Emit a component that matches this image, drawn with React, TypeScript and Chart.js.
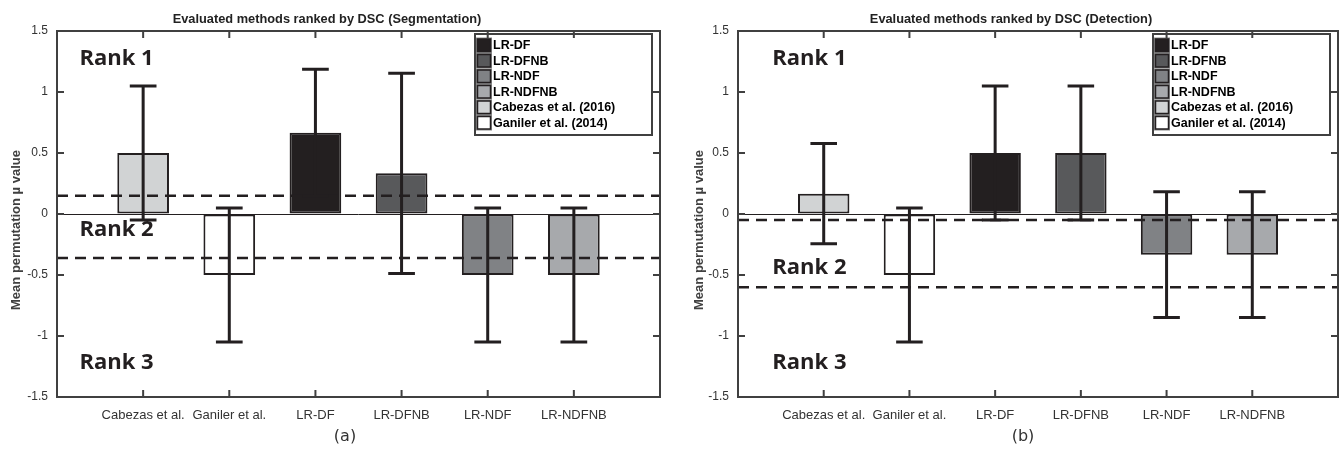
import React, { useEffect, useRef } from 'react';
import { Chart, registerables } from 'chart.js';

Chart.register(...registerables);

// ---------- data ----------
const categories = ['', 'Cabezas et al.', 'Ganiler et al.', 'LR-DF', 'LR-DFNB', 'LR-NDF', 'LR-NDFNB', ''];
const barColors = ['#ffffff', '#d1d3d4', '#ffffff', '#231f20', '#58595b', '#808285', '#a7a9ac', '#ffffff'];

const legendLabels = ['LR-DF', 'LR-DFNB', 'LR-NDF', 'LR-NDFNB', 'Cabezas et al. (2016)', 'Ganiler et al. (2014)'];
const legendColors = ['#231f20', '#58595b', '#808285', '#a7a9ac', '#d1d3d4', '#ffffff'];

const segMeans = [null, 0.5, -0.5, 0.667, 0.333, -0.5, -0.5, null];
const segUpper = [null, 1.05, 0.05, 1.187, 1.153, 0.05, 0.05, null];
const segLower = [null, -0.05, -1.05, 0.147, -0.487, -1.05, -1.05, null];
const segThresholds = [0.15, -0.36];
const segRankY = [1.27, -0.13, -1.22];

const detMeans = [null, 0.167, -0.5, 0.5, 0.5, -0.333, -0.333, null];
const detUpper = [null, 0.577, 0.05, 1.05, 1.05, 0.182, 0.182, null];
const detLower = [null, -0.243, -1.05, -0.05, -0.05, -0.848, -0.848, null];
const detThresholds = [-0.05, -0.6];
const detRankY = [1.27, -0.44, -1.22];

const rankLabels = ['Rank 1', 'Rank 2', 'Rank 3'];
const yTickValues = [-1.5, -1, -0.5, 0, 0.5, 1, 1.5];
const yTickLabels = ['-1.5', '-1', '-0.5', '0', '0.5', '1', '1.5'];

const segTitle = 'Evaluated methods ranked by DSC (Segmentation)';
const detTitle = 'Evaluated methods ranked by DSC (Detection)';
const yTitle = 'Mean permutation \u00b5 value';

// ---------- styling ----------
const FONT = '"Liberation Sans", Arial, Helvetica, sans-serif';
const INK = '#231f20';
const FRAME = '#404040';

const decorPlugin = {
  id: 'decor',
  afterDatasetsDraw(chart: any, _args: any, opts: any) {
    const { ctx, chartArea: a, scales } = chart;
    const x = scales.x;
    const y = scales.y;
    ctx.save();
    // dashed threshold lines
    ctx.strokeStyle = INK;
    ctx.lineWidth = 2.5;
    ctx.setLineDash([11, 7]);
    for (const t of opts.thresholds) {
      const py = y.getPixelForValue(t);
      ctx.beginPath();
      ctx.moveTo(a.left, py);
      ctx.lineTo(a.right, py);
      ctx.stroke();
    }
    ctx.setLineDash([]);
    // error bars
    const step = x.getPixelForValue(1) - x.getPixelForValue(0);
    const half = step * 0.155;
    ctx.lineWidth = 3;
    ctx.strokeStyle = INK;
    for (let i = 0; i < opts.upper.length; i++) {
      const u = opts.upper[i];
      const l = opts.lower[i];
      if (u == null || l == null) continue;
      const px = x.getPixelForValue(i);
      const yu = y.getPixelForValue(u);
      const yl = y.getPixelForValue(l);
      ctx.beginPath();
      ctx.moveTo(px, yu);
      ctx.lineTo(px, yl);
      ctx.moveTo(px - half, yu);
      ctx.lineTo(px + half, yu);
      ctx.moveTo(px - half, yl);
      ctx.lineTo(px + half, yl);
      ctx.stroke();
    }
    ctx.restore();
  },
  afterDraw(chart: any, _args: any, opts: any) {
    const { ctx, chartArea: a, scales } = chart;
    const x = scales.x;
    const y = scales.y;
    ctx.save();
    // rank labels
    ctx.fillStyle = INK;
    ctx.font = 'bold 22px "Open Sans", sans-serif';
    ctx.textAlign = 'left';
    ctx.textBaseline = 'middle';
    opts.rankY.forEach((v: number, i: number) => {
      ctx.fillText(rankLabels[i], x.getPixelForValue(opts.rankX), y.getPixelForValue(v));
    });
    // legend
    const lw = 177;
    const lh = 101;
    const lx = a.right - 8 - lw;
    const ly = a.top + 3;
    ctx.fillStyle = '#ffffff';
    ctx.fillRect(lx, ly, lw, lh);
    ctx.strokeStyle = FRAME;
    ctx.lineWidth = 2;
    ctx.strokeRect(lx, ly, lw, lh);
    const rowH = 15.5;
    const y0 = ly + 3.5;
    ctx.font = 'bold 12.5px ' + FONT;
    legendLabels.forEach((lab, i) => {
      const sy = y0 + i * rowH;
      ctx.fillStyle = '#8a8a8a';
      ctx.fillRect(lx + 1, sy, 16, rowH);
      ctx.fillStyle = legendColors[i];
      ctx.fillRect(lx + 2.5, sy + 1.5, 13, rowH - 3);
      ctx.strokeStyle = INK;
      ctx.lineWidth = 1.5;
      ctx.strokeRect(lx + 2.5, sy + 1.5, 13, rowH - 3);
      ctx.fillStyle = '#000000';
      ctx.textBaseline = 'middle';
      ctx.fillText(lab, lx + 18, sy + rowH / 2 + 0.5);
    });
    // frame and inward ticks
    ctx.strokeStyle = FRAME;
    ctx.lineWidth = 2;
    ctx.strokeRect(a.left, a.top, a.right - a.left, a.bottom - a.top);
    ctx.beginPath();
    for (let i = 1; i < categories.length - 1; i++) {
      const px = x.getPixelForValue(i);
      ctx.moveTo(px, a.top);
      ctx.lineTo(px, a.top + 7);
      ctx.moveTo(px, a.bottom);
      ctx.lineTo(px, a.bottom - 7);
    }
    for (const v of yTickValues) {
      if (v === -1.5 || v === 1.5) continue;
      const py = y.getPixelForValue(v);
      ctx.moveTo(a.left, py);
      ctx.lineTo(a.left + 7, py);
      ctx.moveTo(a.right, py);
      ctx.lineTo(a.right - 7, py);
    }
    ctx.stroke();
    // title
    ctx.fillStyle = '#222222';
    ctx.font = 'bold 12.8px ' + FONT;
    ctx.textAlign = 'center';
    ctx.textBaseline = 'middle';
    ctx.fillText(opts.title, opts.titleX, 19);
    // y-axis title (rotated)
    ctx.save();
    ctx.translate(opts.yTitleX, 230);
    ctx.rotate(-Math.PI / 2);
    ctx.font = 'bold 13px ' + FONT;
    ctx.fillStyle = '#404040';
    ctx.fillText(yTitle, 0, 0);
    ctx.restore();
    // caption
    ctx.font = '16px "DejaVu Sans", sans-serif';
    ctx.fillStyle = '#333333';
    ctx.textAlign = 'center';
    ctx.textBaseline = 'middle';
    ctx.fillText(opts.caption, opts.captionX, 437);
    ctx.restore();
  },
};

function buildConfig(p: any) {
  return {
    type: 'bar',
    data: {
      labels: categories,
      datasets: [
        {
          data: p.means,
          backgroundColor: barColors,
          borderColor: INK,
          borderWidth: 2,
          borderSkipped: false,
          categoryPercentage: 0.6,
          barPercentage: 1,
        },
      ],
    },
    plugins: [decorPlugin],
    options: {
      animation: false,
      responsive: false,
      devicePixelRatio: 1,
      layout: { padding: { top: 31, right: p.rightPad, left: 0, bottom: 0 } },
      plugins: {
        legend: { display: false },
        tooltip: { enabled: false },
        title: { display: false },
        decor: {
          thresholds: p.thresholds,
          upper: p.upper,
          lower: p.lower,
          rankY: p.rankY,
          rankX: p.rankX,
          title: p.title,
          titleX: p.titleX,
          caption: p.caption,
          captionX: p.captionX,
          yTitleX: p.yTitleX,
        },
      },
      scales: {
        x: {
          type: 'category',
          offset: false,
          grid: { display: false },
          border: { display: false },
          ticks: {
            autoSkip: false,
            maxRotation: 0,
            minRotation: 0,
            padding: 3,
            color: '#333333',
            font: { family: FONT, size: 13 },
          },
          afterFit: (s: any) => {
            s.height = 55;
          },
        },
        y: {
          min: -1.5,
          max: 1.5,
          afterBuildTicks: (s: any) => {
            s.ticks = yTickValues.map((v) => ({ value: v }));
          },
          ticks: {
            padding: 9,
            color: '#333333',
            font: { family: FONT, size: 12 },
            callback: (v: number) => {
              const i = yTickValues.indexOf(v);
              return i >= 0 ? yTickLabels[i] : '';
            },
          },
          grid: {
            drawTicks: false,
            lineWidth: 1,
            color: (c: any) => (c.tick && c.tick.value === 0 ? INK : 'rgba(0,0,0,0)'),
          },
          border: { display: false },
          title: { display: false },
          afterFit: (s: any) => {
            s.width = p.yAxisWidth;
          },
        },
      },
    },
  };
}

function ChartPanel(props: { params: any; left: number; width: number }) {
  const ref = useRef<HTMLCanvasElement>(null);
  useEffect(() => {
    const chart = new Chart(ref.current as HTMLCanvasElement, buildConfig(props.params) as any);
    return () => chart.destroy();
  }, []);
  return (
    <canvas
      ref={ref}
      width={props.width}
      height={452}
      style={{ position: 'absolute', left: props.left, top: 0, width: props.width, height: 452 }}
    />
  );
}

const segParams = {
  means: segMeans,
  upper: segUpper,
  lower: segLower,
  thresholds: segThresholds,
  rankY: segRankY,
  rankX: 0.26,
  title: segTitle,
  titleX: 327,
  caption: '(a)',
  captionX: 345,
  rightPad: 10,
  yAxisWidth: 57,
  yTitleX: 16,
};

const detParams = {
  means: detMeans,
  upper: detUpper,
  lower: detLower,
  thresholds: detThresholds,
  rankY: detRankY,
  rankX: 0.4,
  title: detTitle,
  titleX: 341,
  caption: '(b)',
  captionX: 353,
  rightPad: 3,
  yAxisWidth: 68,
  yTitleX: 29,
};

export default function App() {
  return (
    <div style={{ position: 'absolute', left: 0, top: 0, width: 1341, height: 452, background: '#ffffff' }}>
      <ChartPanel params={segParams} left={0} width={670} />
      <ChartPanel params={detParams} left={670} width={671} />
    </div>
  );
}
